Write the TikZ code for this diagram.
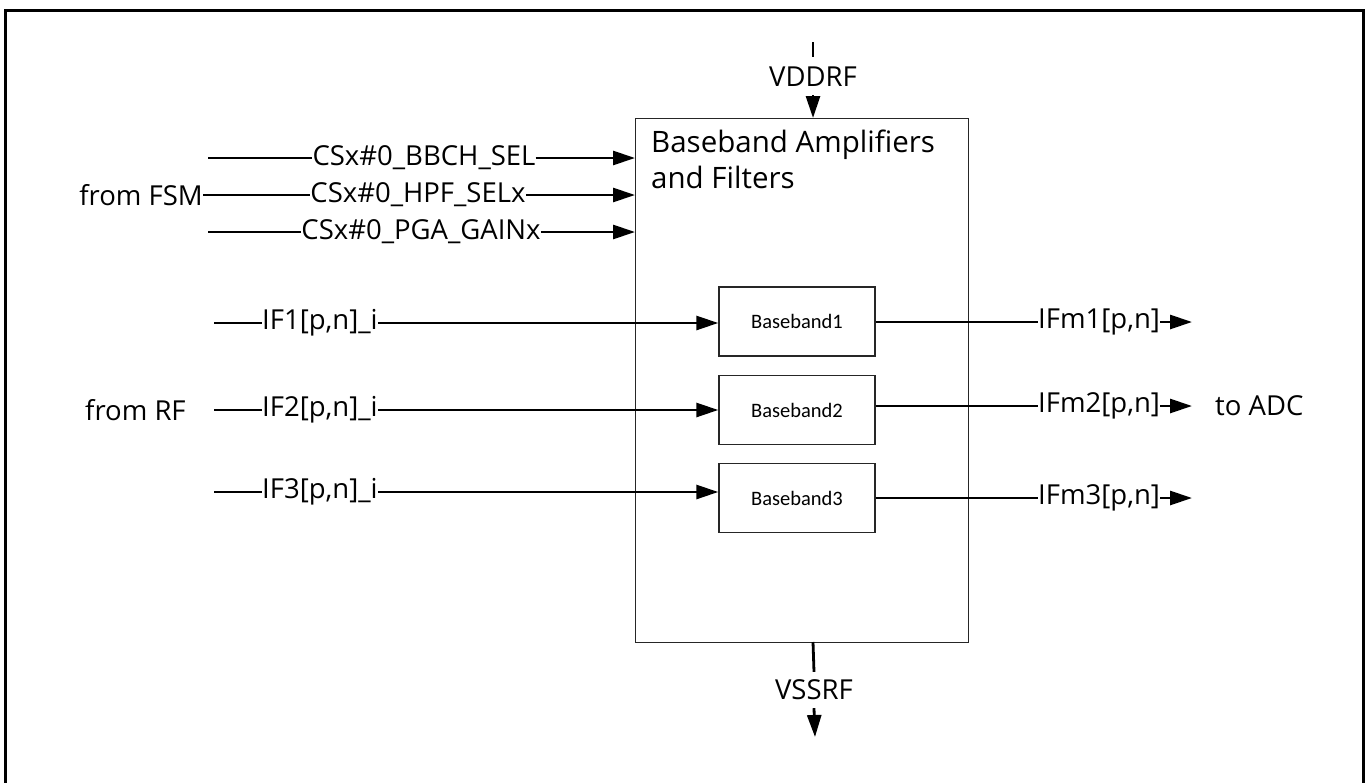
\documentclass[tikz,border=0pt]{standalone}
\usepackage{fontspec}
\setmainfont{Open Sans}
\newfontfamily\smallfont{Carlito}
\usetikzlibrary{arrows.meta}
\begin{document}
\begin{tikzpicture}[x=1pt,y=-1pt,
  lbl/.style={inner sep=0pt, font=\fontsize{27.5}{32}\selectfont},
  conn/.style={line width=2.8pt},
  arr/.style={line width=2.8pt,-{Triangle[length=22pt,width=14pt]}},
  blk/.style={draw=black!85, line width=1.4pt},
  bbox/.style={draw=black!85, line width=1.4pt, minimum width=156pt, minimum height=69pt, inner sep=0pt, font=\smallfont\fontsize{20.5}{24}\selectfont}]
\useasboundingbox (0,0) rectangle (1371,782);
% frame (bottom edge outside the picture)
\draw[line width=3pt] (5,790) -- (5,10) -- (1363,10) -- (1363,790);
% main block
\node[blk, minimum width=333pt, minimum height=524pt, inner sep=0pt, anchor=north west] (main) at (635,118) {};
\node[lbl, anchor=north west, align=left, font=\fontsize{29.5}{36}\selectfont] (title) at (651,130) {Baseband Amplifiers\\and Filters};
% baseband blocks
\node[bbox] (bb1) at (797,321.5) {Baseband1};
\node[bbox] (bb2) at (797,410) {Baseband2};
\node[bbox] (bb3) at (797,498) {Baseband3};
% supply VDDRF
\coordinate (vddtop) at (813,42);
\node[lbl, minimum height=36pt] (vdd) at (813,77) {VDDRF};
\coordinate (vddtip) at (813,118);
\draw[line width=2pt] (vddtop) -- (813,57);
\draw[arr] (vdd.south) -- (vddtip);
% supply VSSRF
\node[lbl, minimum height=36pt] (vss) at (814,690) {VSSRF};
\coordinate (vssbot) at (813,642);
\coordinate (vsstip) at (815,737);
\draw[conn] (vssbot) -- (vss.north);
\draw[arr] (vss.south) -- (vsstip);
% control inputs from FSM
\node[lbl, anchor=east] (fsm) at (203,195) {from FSM};
\coordinate (c1s) at (208,158);
\coordinate (c3s) at (208,232);
\coordinate (c1e) at (635,158);
\coordinate (c2e) at (635,195);
\coordinate (c3e) at (635,232);
\node[lbl] (cs1) at (424,158) {CSx\#0\_BBCH\_SEL};
\node[lbl] (cs2) at (418,195) {CSx\#0\_HPF\_SELx};
\node[lbl] (cs3) at (421,232) {CSx\#0\_PGA\_GAINx};
\draw[conn] (c1s) -- (cs1.west);
\draw[arr] (cs1.east) -- (c1e);
\draw[conn] (fsm.east) -- (cs2.west);
\draw[arr] (cs2.east) -- (c2e);
\draw[conn] (c3s) -- (cs3.west);
\draw[arr] (cs3.east) -- (c3e);
% IF inputs
\node[lbl, anchor=west] (rf) at (85,410) {from RF};
\coordinate (i1s) at (214,323);
\coordinate (i3s) at (214,492);
\node[lbl, anchor=west] (if1) at (262,323) {IF1[p,n]\_i};
\node[lbl, anchor=west] (if2) at (262,410) {IF2[p,n]\_i};
\node[lbl, anchor=west] (if3) at (262,492) {IF3[p,n]\_i};
\draw[conn] (i1s) -- (if1.west);
\draw[arr] (if1.east) -- (bb1.west |- if1.east);
\draw[conn] (i1s |- if2.west) coordinate (i2s) -- (if2.west);
\draw[arr] (if2.east) -- (bb2.west |- if2.east);
\draw[conn] (i3s) -- (if3.west);
\draw[arr] (if3.east) -- (bb3.west |- if3.east);
% outputs
\node[lbl, anchor=west] (o1) at (1038,322) {IFm1[p,n]};
\node[lbl, anchor=west] (o2) at (1038,406) {IFm2[p,n]};
\node[lbl, anchor=west] (o3) at (1038,498) {IFm3[p,n]};
\coordinate (o1e) at (1192,322);
\coordinate (o2e) at (1192,406);
\coordinate (o3e) at (1192,498);
\draw[conn] (bb1.east |- o1.west) -- (o1.west);
\draw[arr] (o1.east) -- (o1e);
\draw[conn] (bb2.east |- o2.west) -- (o2.west);
\draw[arr] (o2.east) -- (o2e);
\draw[conn] (bb3.east |- o3.west) -- (o3.west);
\draw[arr] (o3.east) -- (o3e);
\node[lbl, anchor=west] (adc) at (1215,406) {to ADC};
\end{tikzpicture}
\end{document}
